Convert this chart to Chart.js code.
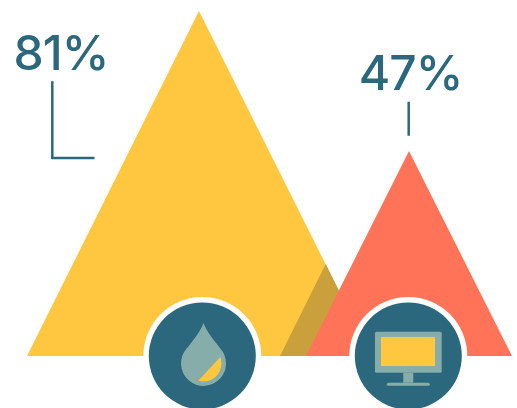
<!DOCTYPE html>
<html><head><meta charset="utf-8">
<style>html,body{margin:0;padding:0;background:#fff}canvas{display:block}</style>
<script src="https://cdn.jsdelivr.net/npm/chart.js@4"></script>
</head><body><canvas id="c" width="517" height="408"></canvas>
<script>
const percentLabels = ['81%', '47%'];
const bigTriangle = [{x:27,y:0},{x:199,y:81},{x:371.5,y:0}];
const overlapShade = [{x:280,y:0},{x:325.7,y:21.6},{x:371.5,y:0}];
const smallTriangle = [{x:306,y:0},{x:409,y:48.13},{x:512,y:0}];
const leaderBig = [{x:52.3,y:64.5},{x:52.3,y:46.5},{x:94.5,y:46.5}];
const leaderSmall = [{x:408.7,y:59.7},{x:408.7,y:51.7}];
const iconCentres = [{x:202.3,y:0},{x:408.3,y:0}];
const labelPositions = [{x:61,y:67.2},{x:410.5,y:62.5}];
const Y_MIN = -12.21, Y_MAX = 83.59;
const YELLOW='#FFC73F', CORAL='#FF7458', TEAL='#2B687D', SHADE='#C9A03B', PALE='#86ADA9';

const tri = (data,color,order)=>({data,order,showLine:true,fill:'origin',backgroundColor:color,
  borderColor:color,borderWidth:0,pointRadius:0,tension:0,clip:false});
const line = (data,order)=>({data,order,showLine:true,fill:false,borderColor:TEAL,borderWidth:2.5,
  pointRadius:0,tension:0,borderCapStyle:'butt',borderJoinStyle:'miter',clip:false});
const dots = (radius,color,order)=>({data:iconCentres,order,showLine:false,pointStyle:'circle',clip:false,
  pointRadius:radius,pointBackgroundColor:color,pointBorderWidth:0,pointHoverRadius:radius});

const art = {
  id:'art',
  afterDatasetsDraw(chart){
    const {ctx,scales:{x,y}} = chart;
    const c0x=x.getPixelForValue(iconCentres[0].x), c0y=y.getPixelForValue(0);
    const c1x=x.getPixelForValue(iconCentres[1].x);
    ctx.save();
    // drop icon
    const dx=c0x+1.2, dy=c0y+7.4, r=22.5;
    ctx.fillStyle=PALE;
    ctx.beginPath();
    ctx.moveTo(dx,dy-40.4);
    ctx.bezierCurveTo(dx-3,dy-32,dx-9,dy-25,dx-15,dy-17);
    ctx.arc(dx,dy,r,Math.PI*1.23,Math.PI*1.77,true);
    ctx.bezierCurveTo(dx+9,dy-25,dx+3,dy-32,dx,dy-40.4);
    ctx.closePath();ctx.fill();
    ctx.fillStyle=YELLOW;
    ctx.beginPath();
    ctx.arc(dx,dy,18,-21*Math.PI/180,106.6*Math.PI/180,false);
    ctx.closePath();ctx.fill();
    // monitor icon
    ctx.fillStyle=PALE;
    ctx.beginPath();ctx.roundRect(c1x-33.3,c0y-24.3,66.7,41,1.5);ctx.fill();
    ctx.fillRect(c1x-5,c0y+16.7,10,10);
    ctx.beginPath();ctx.roundRect(c1x-21.5,c0y+26.7,43,3,1.5);ctx.fill();
    ctx.fillStyle=YELLOW;
    ctx.fillRect(c1x-27.3,c0y-19,54,29);
    // labels
    ctx.fillStyle=TEAL;
    ctx.textAlign='center';ctx.textBaseline='alphabetic';
    ctx.font='500 48px Inter, "Liberation Sans", sans-serif';
    ctx.letterSpacing='-1px';
    percentLabels.forEach((t,i)=>ctx.fillText(t,x.getPixelForValue(labelPositions[i].x),y.getPixelForValue(labelPositions[i].y)));
    ctx.restore();
  }
};

new Chart(document.getElementById('c'),{
  type:'scatter',
  data:{datasets:[
    dots(53.5,TEAL,1),
    dots(59,'#ffffff',2),
    line(leaderBig,3),
    line(leaderSmall,3),
    tri(smallTriangle,CORAL,4),
    tri(overlapShade,SHADE,5),
    tri(bigTriangle,YELLOW,6)
  ]},
  options:{
    responsive:false,animation:false,
    layout:{padding:0,autoPadding:false},
    plugins:{legend:{display:false},tooltip:{enabled:false}},
    scales:{
      x:{type:'linear',min:0,max:517,display:false},
      y:{type:'linear',min:Y_MIN,max:Y_MAX,display:false}
    }
  },
  plugins:[art]
});
</script></body></html>
